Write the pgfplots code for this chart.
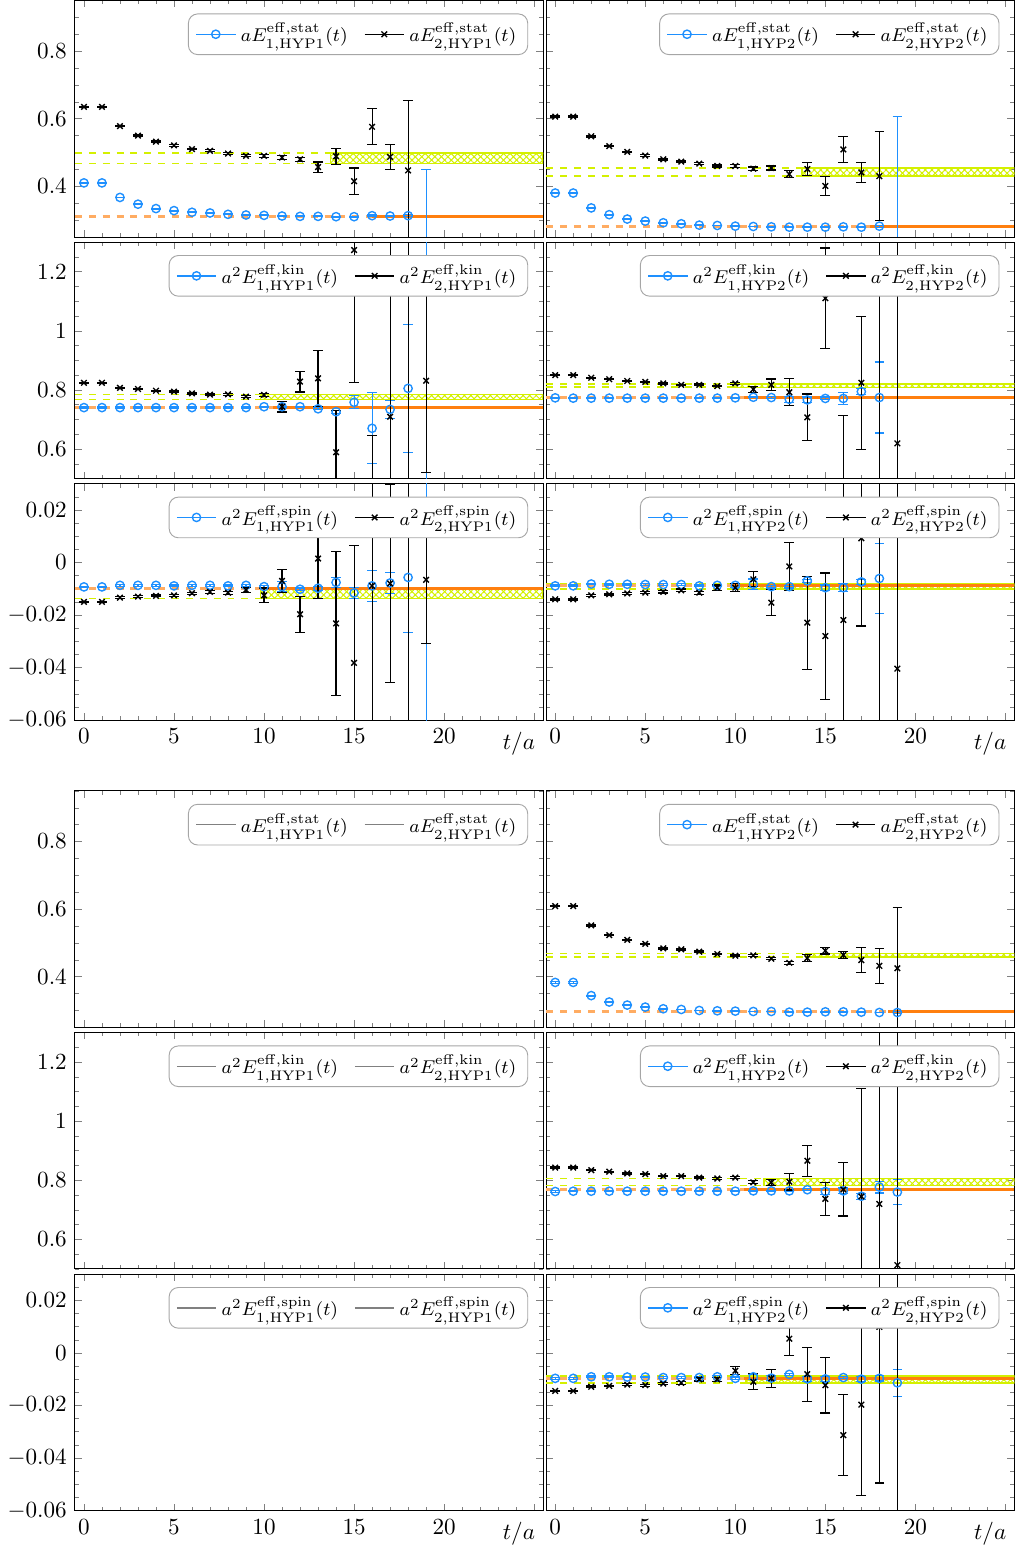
\documentclass[border=0pt]{standalone}
\usepackage{pgfplots}
\pgfplotsset{compat=1.18}
\usetikzlibrary{patterns.meta}

\definecolor{fblue}{RGB}{30,144,255}
\definecolor{forange}{RGB}{255,127,14}
\definecolor{fyellow}{RGB}{212,240,0}

\pgfplotsset{
  panel/.style={scale only axis, width=202.5pt, height=102.3pt, anchor=north west,
    xmin=-0.5, xmax=25.5, xtick={0,5,...,25}, minor xtick={0,...,25}, xticklabels={},
    tick align=inside, xtick pos=both, ytick pos=both,
    major tick length=3pt, minor tick length=1.7pt,
    scaled y ticks=false, yticklabel style={/pgf/number format/fixed},
    legend style={at={(0.968,0.945)}, anchor=north east, legend columns=2,
      draw=gray!70, rounded corners=4pt, fill=white, font=\footnotesize,
      /tikz/every even column/.append style={column sep=5pt}}},
  bottomrow/.style={xticklabels={0,5,10,15,20,}, xlabel={$t/a$},
    xlabel style={at={(axis description cs:1,0)}, anchor=north east, yshift=-1.5pt}},
  noylab/.style={yticklabels={}},
  stat/.style={ymin=0.25, ymax=0.95, ytick={0.4,0.6,0.8}, minor ytick={0.25,0.3,...,0.95}},
  kin/.style={ymin=0.5, ymax=1.3, ytick={0.6,0.8,1,1.2}, minor ytick={0.5,0.55,...,1.3}},
  spin/.style={ymin=-0.06, ymax=0.03, ytick={-0.06,-0.04,-0.02,0,0.02}, minor ytick={-0.06,-0.055,...,0.03}},
  bpts/.style={forget plot, only marks, mark=o, fblue, mark size=1.8pt, mark options={line width=0.6pt},
    error bars/.cd, y dir=both, y explicit, error bar style={fblue, line width=0.5pt},
    error mark options={fblue, mark size=2.1pt, line width=0.5pt, rotate=90}},
  kpts/.style={forget plot, only marks, mark=x, black, mark size=1.7pt, mark options={line width=0.6pt},
    error bars/.cd, y dir=both, y explicit, error bar style={black, line width=0.5pt},
    error mark options={black, mark size=2.1pt, line width=0.5pt, rotate=90}},
}

% fit bands: start, low, high
\newcommand{\yellowfit}[3]{%
  \addplot[forget plot, draw=none, pattern={Lines[angle=45,distance=2pt,line width=0.45pt]}, pattern color=fyellow]
    coordinates {(#1,#2) (25.5,#2) (25.5,#3) (#1,#3)} -- cycle;
  \addplot[forget plot, fyellow, line width=0.6pt, pattern={Lines[angle=-45,distance=2pt,line width=0.45pt]}, pattern color=fyellow]
    coordinates {(#1,#2) (25.5,#2) (25.5,#3) (#1,#3)} -- cycle;
  \addplot[forget plot, fyellow, dashed, line width=0.65pt] coordinates {(-0.5,#2) (#1,#2)};
  \addplot[forget plot, fyellow, dashed, line width=0.65pt] coordinates {(-0.5,#3) (#1,#3)};
}
% start, value
\newcommand{\orangefit}[2]{%
  \addplot[forget plot, forange!65, dashed, line width=1.2pt] coordinates {(-0.5,#2) (#1,#2)};
  \addplot[forget plot, forange, line width=1.2pt] coordinates {(#1,#2) (25.5,#2)};
}
\newcommand{\legendpair}[2]{%
  \addlegendimage{fblue, mark=o, mark size=1.8pt, line width=0.6pt}
  \addlegendentry{$#1$}
  \addlegendimage{black, mark=x, mark size=1.7pt, line width=0.6pt}
  \addlegendentry{$#2$}
}
\newcommand{\legendgray}[2]{%
  \addlegendimage{gray, line width=0.6pt}
  \addlegendentry{$#1$}
  \addlegendimage{gray, line width=0.6pt}
  \addlegendentry{$#2$}
}

\begin{document}
\begin{tikzpicture}
% ================= top group =================
\begin{axis}[panel, stat, at={(0pt,0pt)}]
\yellowfit{13.7}{0.467}{0.498}
\orangefit{16}{0.311}
\addplot[bpts] coordinates {(0,0.410) +- (0,0.002) (1,0.410) +- (0,0.002) (2,0.367) +- (0,0.001)
 (3,0.347) +- (0,0.001) (4,0.334) +- (0,0.001) (5,0.328) +- (0,0.001) (6,0.323) +- (0,0.001)
 (7,0.321) +- (0,0.001) (8,0.317) +- (0,0.001) (9,0.315) +- (0,0.001) (10,0.314) +- (0,0.001)
 (11,0.312) +- (0,0.001) (12,0.311) +- (0,0.001) (13,0.311) +- (0,0.001) (14,0.310) +- (0,0.001)
 (15,0.310) +- (0,0.001) (16,0.313) +- (0,0.002) (17,0.312) +- (0,0.002) (18,0.313) +- (0,0.003)
 (19,0.15) +- (0,0.30)};
\addplot[kpts] coordinates {(0,0.635) +- (0,0.002) (1,0.635) +- (0,0.002) (2,0.578) +- (0,0.002)
 (3,0.550) +- (0,0.002) (4,0.532) +- (0,0.002) (5,0.521) +- (0,0.002) (6,0.510) +- (0,0.002)
 (7,0.505) +- (0,0.003) (8,0.497) +- (0,0.003) (9,0.490) +- (0,0.003) (10,0.490) +- (0,0.004)
 (11,0.485) +- (0,0.005) (12,0.480) +- (0,0.006) (13,0.457) +- (0,0.015) (14,0.489) +- (0,0.024)
 (15,0.415) +- (0,0.039) (16,0.576) +- (0,0.053) (17,0.487) +- (0,0.037) (18,0.447) +- (0,0.206)};
\legendpair{aE^{\mathrm{eff,stat}}_{\mathrm{1,HYP1}}(t)}{aE^{\mathrm{eff,stat}}_{\mathrm{2,HYP1}}(t)}
\end{axis}

\begin{axis}[panel, stat, noylab, at={(203.82pt,0pt)}]
\yellowfit{13.7}{0.431}{0.454}
\orangefit{17.5}{0.280}
\addplot[bpts] coordinates {(0,0.380) +- (0,0.002) (1,0.380) +- (0,0.002) (2,0.336) +- (0,0.001)
 (3,0.316) +- (0,0.001) (4,0.303) +- (0,0.001) (5,0.297) +- (0,0.001) (6,0.292) +- (0,0.001)
 (7,0.289) +- (0,0.001) (8,0.285) +- (0,0.001) (9,0.284) +- (0,0.001) (10,0.282) +- (0,0.001)
 (11,0.281) +- (0,0.001) (12,0.280) +- (0,0.001) (13,0.279) +- (0,0.001) (14,0.279) +- (0,0.001)
 (15,0.279) +- (0,0.001) (16,0.280) +- (0,0.001) (17,0.279) +- (0,0.002) (18,0.282) +- (0,0.003)
 (19,0.20) +- (0,0.407)};
\addplot[kpts] coordinates {(0,0.606) +- (0,0.002) (1,0.606) +- (0,0.002) (2,0.548) +- (0,0.002)
 (3,0.519) +- (0,0.002) (4,0.502) +- (0,0.002) (5,0.491) +- (0,0.002) (6,0.480) +- (0,0.002)
 (7,0.473) +- (0,0.002) (8,0.467) +- (0,0.003) (9,0.460) +- (0,0.003) (10,0.460) +- (0,0.004)
 (11,0.452) +- (0,0.005) (12,0.454) +- (0,0.006) (13,0.436) +- (0,0.010) (14,0.451) +- (0,0.019)
 (15,0.401) +- (0,0.028) (16,0.509) +- (0,0.039) (17,0.441) +- (0,0.030) (18,0.430) +- (0,0.132)};
\legendpair{aE^{\mathrm{eff,stat}}_{\mathrm{1,HYP2}}(t)}{aE^{\mathrm{eff,stat}}_{\mathrm{2,HYP2}}(t)}
\end{axis}

\begin{axis}[panel, kin, at={(0pt,-104.49pt)}]
\yellowfit{9.8}{0.768}{0.785}
\orangefit{10.5}{0.740}
\addplot[bpts] coordinates {(0,0.740) +- (0,0.002) (1,0.740) +- (0,0.002) (2,0.740) +- (0,0.002)
 (3,0.740) +- (0,0.002) (4,0.740) +- (0,0.002) (5,0.740) +- (0,0.002) (6,0.740) +- (0,0.002)
 (7,0.740) +- (0,0.002) (8,0.740) +- (0,0.002) (9,0.740) +- (0,0.002) (10,0.743) +- (0,0.002)
 (11,0.743) +- (0,0.002) (12,0.743) +- (0,0.002) (13,0.736) +- (0,0.003) (14,0.726) +- (0,0.005)
 (15,0.758) +- (0,0.022) (16,0.670) +- (0,0.120) (17,0.734) +- (0,0.030) (18,0.805) +- (0,0.217)
 (19,0.40) +- (0,1.00)};
\addplot[kpts] coordinates {(0,0.824) +- (0,0.002) (1,0.824) +- (0,0.002) (2,0.807) +- (0,0.002)
 (3,0.803) +- (0,0.002) (4,0.797) +- (0,0.002) (5,0.794) +- (0,0.002) (6,0.788) +- (0,0.002)
 (7,0.784) +- (0,0.002) (8,0.785) +- (0,0.003) (9,0.777) +- (0,0.004) (10,0.783) +- (0,0.006)
 (11,0.743) +- (0,0.018) (12,0.828) +- (0,0.035) (13,0.839) +- (0,0.094) (14,0.589) +- (0,0.141)
 (15,1.273) +- (0,0.447) (16,0.350) +- (0,0.296) (17,0.709) +- (0,0.600) (18,0.450) +- (0,0.900)
 (19,0.831) +- (0,0.310)};
\legendpair{a^2E^{\mathrm{eff,kin}}_{\mathrm{1,HYP1}}(t)}{a^2E^{\mathrm{eff,kin}}_{\mathrm{2,HYP1}}(t)}
\end{axis}

\begin{axis}[panel, kin, noylab, at={(203.82pt,-104.49pt)}]
\yellowfit{9.9}{0.809}{0.820}
\orangefit{10.5}{0.775}
\addplot[bpts] coordinates {(0,0.773) +- (0,0.002) (1,0.772) +- (0,0.002) (2,0.772) +- (0,0.002)
 (3,0.772) +- (0,0.002) (4,0.772) +- (0,0.002) (5,0.772) +- (0,0.002) (6,0.772) +- (0,0.002)
 (7,0.772) +- (0,0.002) (8,0.772) +- (0,0.002) (9,0.772) +- (0,0.002) (10,0.773) +- (0,0.002)
 (11,0.775) +- (0,0.002) (12,0.774) +- (0,0.003) (13,0.768) +- (0,0.010) (14,0.766) +- (0,0.010)
 (15,0.771) +- (0,0.005) (16,0.771) +- (0,0.020) (17,0.794) +- (0,0.010) (18,0.774) +- (0,0.120)
 (19,0.40) +- (0,1.00)};
\addplot[kpts] coordinates {(0,0.850) +- (0,0.002) (1,0.850) +- (0,0.002) (2,0.841) +- (0,0.002)
 (3,0.836) +- (0,0.002) (4,0.830) +- (0,0.002) (5,0.827) +- (0,0.002) (6,0.822) +- (0,0.002)
 (7,0.817) +- (0,0.002) (8,0.817) +- (0,0.003) (9,0.813) +- (0,0.003) (10,0.822) +- (0,0.004)
 (11,0.802) +- (0,0.010) (12,0.817) +- (0,0.020) (13,0.792) +- (0,0.046) (14,0.707) +- (0,0.079)
 (15,1.110) +- (0,0.170) (16,0.400) +- (0,0.313) (17,0.824) +- (0,0.225) (18,0.300) +- (0,1.200)
 (19,0.619) +- (0,0.800)};
\legendpair{a^2E^{\mathrm{eff,kin}}_{\mathrm{1,HYP2}}(t)}{a^2E^{\mathrm{eff,kin}}_{\mathrm{2,HYP2}}(t)}
\end{axis}

\begin{axis}[panel, spin, bottomrow, at={(0pt,-208.98pt)}]
\yellowfit{9.8}{-0.0138}{-0.0096}
\orangefit{9.8}{-0.0098}
\addplot[bpts] coordinates {(0,-0.0093) +- (0,0.0003) (1,-0.0093) +- (0,0.0003) (2,-0.0087) +- (0,0.0003)
 (3,-0.0087) +- (0,0.0003) (4,-0.0087) +- (0,0.0003) (5,-0.0089) +- (0,0.0003) (6,-0.0087) +- (0,0.0003)
 (7,-0.0087) +- (0,0.0003) (8,-0.0089) +- (0,0.0003) (9,-0.0087) +- (0,0.0003) (10,-0.0092) +- (0,0.0005)
 (11,-0.0092) +- (0,0.0020) (12,-0.0102) +- (0,0.0005) (13,-0.0098) +- (0,0.0008) (14,-0.0076) +- (0,0.0020)
 (15,-0.0116) +- (0,0.0020) (16,-0.0089) +- (0,0.0059) (17,-0.0078) +- (0,0.0040) (18,-0.0057) +- (0,0.0210)
 (19,-0.0700) +- (0,0.2000)};
\addplot[kpts] coordinates {(0,-0.0150) +- (0,0.0003) (1,-0.0150) +- (0,0.0003) (2,-0.0134) +- (0,0.0003)
 (3,-0.0130) +- (0,0.0003) (4,-0.0127) +- (0,0.0003) (5,-0.0125) +- (0,0.0004) (6,-0.0117) +- (0,0.0004)
 (7,-0.0112) +- (0,0.0005) (8,-0.0115) +- (0,0.0006) (9,-0.0104) +- (0,0.0010) (10,-0.0125) +- (0,0.0028)
 (11,-0.0070) +- (0,0.0044) (12,-0.0197) +- (0,0.0069) (13,0.0015) +- (0,0.0151) (14,-0.0232) +- (0,0.0273)
 (15,-0.0382) +- (0,0.0446) (16,-0.0089) +- (0,0.1000) (17,-0.0080) +- (0,0.0376) (18,-0.0700) +- (0,0.2000)
 (19,-0.0066) +- (0,0.0242)};
\legendpair{a^2E^{\mathrm{eff,spin}}_{\mathrm{1,HYP1}}(t)}{a^2E^{\mathrm{eff,spin}}_{\mathrm{2,HYP1}}(t)}
\end{axis}

\begin{axis}[panel, spin, bottomrow, noylab, at={(203.82pt,-208.98pt)}]
\yellowfit{9.8}{-0.0101}{-0.0082}
\orangefit{9.8}{-0.0087}
\addplot[bpts] coordinates {(0,-0.0089) +- (0,0.0003) (1,-0.0089) +- (0,0.0003) (2,-0.0082) +- (0,0.0003)
 (3,-0.0083) +- (0,0.0003) (4,-0.0083) +- (0,0.0003) (5,-0.0084) +- (0,0.0003) (6,-0.0084) +- (0,0.0003)
 (7,-0.0084) +- (0,0.0003) (8,-0.0089) +- (0,0.0003) (9,-0.0087) +- (0,0.0004) (10,-0.0087) +- (0,0.0008)
 (11,-0.0083) +- (0,0.0020) (12,-0.0092) +- (0,0.0005) (13,-0.0092) +- (0,0.0005) (14,-0.0070) +- (0,0.0005)
 (15,-0.0096) +- (0,0.0010) (16,-0.0096) +- (0,0.0015) (17,-0.0074) +- (0,0.0010) (18,-0.0061) +- (0,0.0132)};
\addplot[kpts] coordinates {(0,-0.0140) +- (0,0.0003) (1,-0.0140) +- (0,0.0003) (2,-0.0125) +- (0,0.0003)
 (3,-0.0121) +- (0,0.0003) (4,-0.0118) +- (0,0.0003) (5,-0.0115) +- (0,0.0004) (6,-0.0112) +- (0,0.0004)
 (7,-0.0106) +- (0,0.0005) (8,-0.0115) +- (0,0.0006) (9,-0.0096) +- (0,0.0010) (10,-0.0096) +- (0,0.0015)
 (11,-0.0064) +- (0,0.0029) (12,-0.0153) +- (0,0.0049) (13,-0.0015) +- (0,0.0092) (14,-0.0229) +- (0,0.0177)
 (15,-0.0280) +- (0,0.0240) (16,-0.0219) +- (0,0.0600) (17,0.0092) +- (0,0.0334) (18,-0.0700) +- (0,0.2000)
 (19,-0.0404) +- (0,0.0800)};
\legendpair{a^2E^{\mathrm{eff,spin}}_{\mathrm{1,HYP2}}(t)}{a^2E^{\mathrm{eff,spin}}_{\mathrm{2,HYP2}}(t)}
\end{axis}

% ================= bottom group =================
\begin{axis}[panel, stat, at={(0pt,-341.85pt)}]
\legendgray{aE^{\mathrm{eff,stat}}_{\mathrm{1,HYP1}}(t)}{aE^{\mathrm{eff,stat}}_{\mathrm{2,HYP1}}(t)}
\end{axis}

\begin{axis}[panel, stat, noylab, at={(203.82pt,-341.85pt)}]
\yellowfit{13.9}{0.458}{0.469}
\orangefit{18.5}{0.296}
\addplot[bpts] coordinates {(0,0.383) +- (0,0.002) (1,0.383) +- (0,0.002) (2,0.344) +- (0,0.001)
 (3,0.325) +- (0,0.001) (4,0.316) +- (0,0.001) (5,0.310) +- (0,0.001) (6,0.305) +- (0,0.001)
 (7,0.303) +- (0,0.001) (8,0.300) +- (0,0.001) (9,0.299) +- (0,0.001) (10,0.298) +- (0,0.001)
 (11,0.297) +- (0,0.001) (12,0.297) +- (0,0.001) (13,0.295) +- (0,0.001) (14,0.295) +- (0,0.001)
 (15,0.296) +- (0,0.001) (16,0.296) +- (0,0.001) (17,0.295) +- (0,0.001) (18,0.294) +- (0,0.001)
 (19,0.294) +- (0,0.002)};
\addplot[kpts] coordinates {(0,0.609) +- (0,0.002) (1,0.609) +- (0,0.002) (2,0.552) +- (0,0.002)
 (3,0.523) +- (0,0.002) (4,0.509) +- (0,0.002) (5,0.497) +- (0,0.002) (6,0.484) +- (0,0.002)
 (7,0.481) +- (0,0.002) (8,0.474) +- (0,0.002) (9,0.467) +- (0,0.002) (10,0.462) +- (0,0.002)
 (11,0.463) +- (0,0.003) (12,0.453) +- (0,0.003) (13,0.441) +- (0,0.004) (14,0.455) +- (0,0.010)
 (15,0.477) +- (0,0.010) (16,0.464) +- (0,0.010) (17,0.449) +- (0,0.037) (18,0.432) +- (0,0.051)
 (19,0.425) +- (0,0.180)};
\legendpair{aE^{\mathrm{eff,stat}}_{\mathrm{1,HYP2}}(t)}{aE^{\mathrm{eff,stat}}_{\mathrm{2,HYP2}}(t)}
\end{axis}

\begin{axis}[panel, kin, at={(0pt,-446.34pt)}]
\legendgray{a^2E^{\mathrm{eff,kin}}_{\mathrm{1,HYP1}}(t)}{a^2E^{\mathrm{eff,kin}}_{\mathrm{2,HYP1}}(t)}
\end{axis}

\begin{axis}[panel, kin, noylab, at={(203.82pt,-446.34pt)}]
\yellowfit{11.6}{0.783}{0.806}
\orangefit{10.5}{0.768}
\addplot[bpts] coordinates {(0,0.762) +- (0,0.002) (1,0.763) +- (0,0.002) (2,0.763) +- (0,0.002)
 (3,0.763) +- (0,0.002) (4,0.763) +- (0,0.002) (5,0.763) +- (0,0.002) (6,0.763) +- (0,0.002)
 (7,0.763) +- (0,0.002) (8,0.763) +- (0,0.002) (9,0.763) +- (0,0.002) (10,0.763) +- (0,0.002)
 (11,0.764) +- (0,0.002) (12,0.764) +- (0,0.002) (13,0.764) +- (0,0.003) (14,0.768) +- (0,0.003)
 (15,0.762) +- (0,0.010) (16,0.764) +- (0,0.010) (17,0.746) +- (0,0.010) (18,0.777) +- (0,0.020)
 (19,0.760) +- (0,0.042)};
\addplot[kpts] coordinates {(0,0.843) +- (0,0.002) (1,0.843) +- (0,0.002) (2,0.834) +- (0,0.002)
 (3,0.829) +- (0,0.002) (4,0.823) +- (0,0.002) (5,0.821) +- (0,0.002) (6,0.814) +- (0,0.002)
 (7,0.814) +- (0,0.002) (8,0.809) +- (0,0.002) (9,0.806) +- (0,0.003) (10,0.809) +- (0,0.003)
 (11,0.793) +- (0,0.005) (12,0.793) +- (0,0.010) (13,0.795) +- (0,0.028) (14,0.866) +- (0,0.052)
 (15,0.737) +- (0,0.055) (16,0.769) +- (0,0.090) (17,0.745) +- (0,0.366) (18,0.720) +- (0,0.700)
 (19,0.513) +- (0,0.800)};
\legendpair{a^2E^{\mathrm{eff,kin}}_{\mathrm{1,HYP2}}(t)}{a^2E^{\mathrm{eff,kin}}_{\mathrm{2,HYP2}}(t)}
\end{axis}

\begin{axis}[panel, spin, bottomrow, at={(0pt,-550.83pt)}]
\legendgray{a^2E^{\mathrm{eff,spin}}_{\mathrm{1,HYP1}}(t)}{a^2E^{\mathrm{eff,spin}}_{\mathrm{2,HYP1}}(t)}
\end{axis}

\begin{axis}[panel, spin, bottomrow, noylab, at={(203.82pt,-550.83pt)}]
\yellowfit{10.6}{-0.0114}{-0.0088}
\orangefit{10.5}{-0.0097}
\addplot[bpts] coordinates {(0,-0.0097) +- (0,0.0003) (1,-0.0097) +- (0,0.0003) (2,-0.0091) +- (0,0.0003)
 (3,-0.0091) +- (0,0.0003) (4,-0.0092) +- (0,0.0003) (5,-0.0092) +- (0,0.0003) (6,-0.0094) +- (0,0.0003)
 (7,-0.0094) +- (0,0.0003) (8,-0.0094) +- (0,0.0003) (9,-0.0091) +- (0,0.0004) (10,-0.0097) +- (0,0.0005)
 (11,-0.0091) +- (0,0.0010) (12,-0.0096) +- (0,0.0010) (13,-0.0082) +- (0,0.0005) (14,-0.0099) +- (0,0.0010)
 (15,-0.0099) +- (0,0.0010) (16,-0.0094) +- (0,0.0005) (17,-0.0100) +- (0,0.0010) (18,-0.0097) +- (0,0.0010)
 (19,-0.0114) +- (0,0.0051)};
\addplot[kpts] coordinates {(0,-0.0145) +- (0,0.0003) (1,-0.0145) +- (0,0.0003) (2,-0.0129) +- (0,0.0003)
 (3,-0.0126) +- (0,0.0003) (4,-0.0121) +- (0,0.0003) (5,-0.0123) +- (0,0.0004) (6,-0.0117) +- (0,0.0004)
 (7,-0.0114) +- (0,0.0005) (8,-0.0101) +- (0,0.0006) (9,-0.0101) +- (0,0.0008) (10,-0.0068) +- (0,0.0015)
 (11,-0.0110) +- (0,0.0030) (12,-0.0097) +- (0,0.0034) (13,0.0054) +- (0,0.0063) (14,-0.0081) +- (0,0.0103)
 (15,-0.0123) +- (0,0.0106) (16,-0.0313) +- (0,0.0154) (17,-0.0197) +- (0,0.0347) (18,0.0099) +- (0,0.0594)
 (19,-0.0800) +- (0,0.2000)};
\legendpair{a^2E^{\mathrm{eff,spin}}_{\mathrm{1,HYP2}}(t)}{a^2E^{\mathrm{eff,spin}}_{\mathrm{2,HYP2}}(t)}
\end{axis}
\end{tikzpicture}
\end{document}
